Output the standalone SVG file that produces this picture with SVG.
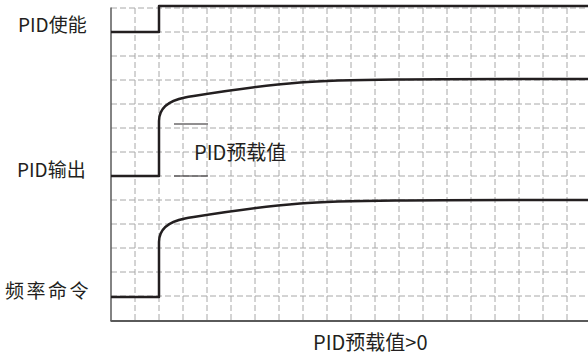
<svg xmlns="http://www.w3.org/2000/svg" width="588" height="356" viewBox="0 0 588 356">
<style>
.grid{stroke:#a8a8a8;stroke-width:1;stroke-dasharray:6 3;fill:none}
.axis{stroke:#5a5a5a;fill:none}
.sig{stroke:#231f20;stroke-width:2.5;fill:none;stroke-linejoin:round}
.mark{stroke:#231f20;stroke-width:1;fill:none}
text{font-family:"Noto Sans CJK SC","Liberation Sans",sans-serif;font-size:19px;fill:#231f20}
.big{font-size:20px}
</style>
<rect width="588" height="356" fill="#fff"/>
<g id="grid">
<path class="grid" d="M111,8H588M111,32H588M111,56H588M111,80H588M111,104H588M111,128H588M111,152H588M111,176H588M111,200H588M111,224H588M111,248H588M111,272H588M111,296H588"/>
<path class="grid" d="M135,8V320M159,8V320M183,8V320M207,8V320M231,8V320M255,8V320M279,8V320M303,8V320M327,8V320M351,8V320M375,8V320M399,8V320M423,8V320M447,8V320M471,8V320M495,8V320M519,8V320M543,8V320M567,8V320"/>
</g>
<g id="axes">
<path class="axis" stroke-width="1.5" d="M111,7.5V321"/>
<path class="axis" stroke-width="2" d="M110.5,321H588"/>
</g>
<g id="connectors">
<path id="pid-enable-wave" class="sig" d="M111,32H159V6H588"/>
<path id="pid-output-wave" class="sig" d="M111,176H159V121C159,109 167,101 185,97.5C210,93.5 250,86.5 300,82.5C340,79.3 420,79 588,79"/>
<path id="freq-wave" class="sig" transform="translate(0,121)" d="M111,176H159V121C159,109 167,101 185,97.5C210,93.5 250,86.5 300,82.5C340,79.3 420,79 588,79"/>
<path id="preset-marks" class="mark" d="M174,124H208M174,176H208"/>
</g>
<g id="label-pid-enable"><text x="18" y="32">PID使能</text></g>
<g id="label-pid-output"><text x="17" y="177">PID输出</text></g>
<g id="label-freq"><text x="5" y="298" letter-spacing="2.5">频率命令</text></g>
<g id="label-preset"><text class="big" x="194" y="160">PID预载值</text></g>
<g id="label-caption"><text class="big" x="313" y="350">PID预载值&gt;0</text></g>
</svg>
